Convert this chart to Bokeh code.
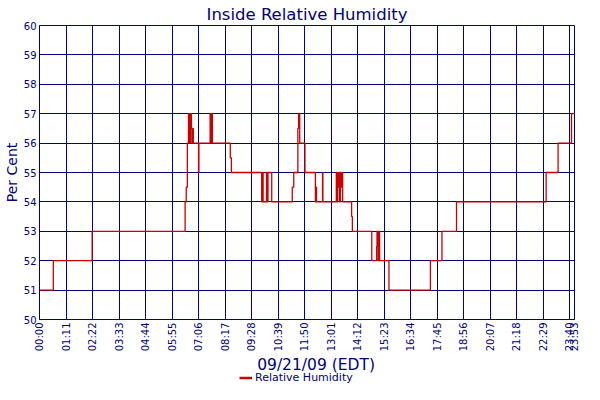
import math
from bokeh.plotting import figure
from bokeh.layouts import column
from bokeh.models import FixedTicker, Legend, LegendItem, Range1d, ColumnDataSource, Label
from bokeh.embed import file_html
from bokeh.resources import INLINE

# Time of day in minutes after midnight, and relative humidity (%) from that time on
minutes = [0, 37, 141, 390, 393, 396, 399, 402, 404, 405, 406, 407, 408, 409, 410, 411, 412,
           426, 427, 457, 458, 459, 460, 461, 463, 511, 514,
           595, 596, 597, 598, 599, 608, 609, 610, 611, 612, 622,
           677, 681, 692, 694, 697, 711, 739, 741, 742, 758, 759,
           795, 797, 799, 800, 802, 804, 806, 808, 810, 812, 836, 838,
           890, 903, 904, 905, 906, 907, 908, 909, 910, 911, 936,
           1047, 1078, 1117, 1357, 1389, 1425, 1433]
humidity = [51, 52, 53, 54, 54.5, 56, 57, 56, 57, 56.5, 57, 56.5, 56, 56.5, 56, 56.5, 56,
            55, 56, 57, 56, 57, 56, 57, 56, 55.5, 55,
            54, 55, 54, 55, 54, 55, 54, 55, 54, 55, 54,
            54.5, 55, 56.5, 57, 56, 55, 54, 54.5, 54, 55, 54,
            55, 54, 55, 54.5, 55, 54, 55, 54.5, 55, 54, 53.5, 53,
            52, 52.5, 53, 52.5, 53, 52, 53, 52, 53, 52, 51,
            52, 53, 54, 55, 56, 57, 57]

x_tick_minutes = [0, 71, 142, 213, 284, 355, 426, 497, 568, 639, 710, 781, 852, 923,
                  994, 1065, 1136, 1207, 1278, 1349, 1420, 1433]
x_tick_labels = ["00:00", "01:11", "02:22", "03:33", "04:44", "05:55", "07:06", "08:17",
                 "09:28", "10:39", "11:50", "13:01", "14:12", "15:23", "16:34", "17:45",
                 "18:56", "20:07", "21:18", "22:29", "23:40", "23:53"]
y_ticks = [50, 51, 52, 53, 54, 55, 56, 57, 58, 59, 60]
series_name = "Relative Humidity"
title_text = "Inside Relative Humidity"
x_title = "09/21/09 (EDT)"
y_title = "Per Cent"

NAVY = "#000080"
RED = "#cc0000"
FONT = "DejaVu Sans"
W = 590

source = ColumnDataSource(data=dict(t=minutes, rh=humidity))

p = figure(width=W, height=355, output_backend="svg", toolbar_location=None,
           x_range=Range1d(0, 1433), y_range=Range1d(50, 60),
           y_axis_label=y_title,
           min_border_left=2, min_border_right=2, min_border_top=2, min_border_bottom=36)

r = p.step("t", "rh", source=source, mode="after", line_color=RED, line_width=1.3)

p.title.text = title_text
p.title.align = "center"
p.title.text_font = FONT
p.title.text_font_size = "16.5px"
p.title.text_font_style = "normal"
p.title.text_color = NAVY
p.title.standoff = 4

p.outline_line_color = NAVY
p.outline_line_width = 1
p.background_fill_color = "white"
p.border_fill_color = "white"

p.xaxis.ticker = FixedTicker(ticks=x_tick_minutes)
p.xaxis.major_label_overrides = {t: lab for t, lab in zip(x_tick_minutes, x_tick_labels)}
p.xaxis.major_label_orientation = math.pi / 2
p.yaxis.ticker = FixedTicker(ticks=y_ticks)

for ax in (p.xaxis, p.yaxis):
    ax.axis_line_color = NAVY
    ax.major_tick_line_color = None
    ax.minor_tick_line_color = None
    ax.major_tick_out = 0
    ax.major_tick_in = 0
    ax.major_label_text_color = NAVY
    ax.major_label_text_font = FONT
    ax.major_label_text_font_size = "10px"
    ax.major_label_standoff = 3
    ax.axis_label_text_color = NAVY
    ax.axis_label_text_font = FONT
    ax.axis_label_text_font_style = "normal"

p.yaxis.axis_label_text_font_size = "14px"
p.yaxis.axis_label_standoff = 1

for g in (p.xgrid, p.ygrid):
    g.grid_line_color = NAVY
    g.grid_line_alpha = 1.0
    g.grid_line_width = 1

# strip below the chart: date caption (x axis title) and legend
lf = figure(width=W, height=29, output_backend="svg", toolbar_location=None,
            x_range=Range1d(0, 1), y_range=Range1d(0, 29),
            min_border=0, min_border_left=32, min_border_right=16,
            min_border_top=0, min_border_bottom=0)
lf.axis.visible = False
lf.grid.visible = False
lf.outline_line_color = None
lf.background_fill_color = "white"
lf.border_fill_color = "white"

lf.add_layout(Label(x=0.517, y=20, text=x_title, text_align="center", text_baseline="middle",
                    text_font=FONT, text_font_size="15.5px", text_color=NAVY))

# same series drawn in the strip only to give the legend its glyph (it lies outside this strip's ranges)
lr = lf.step("t", "rh", source=source, mode="after", line_color=RED, line_width=2.5)

legend = Legend(items=[LegendItem(label=series_name, renderers=[lr])],
                orientation="horizontal", location=(200, 0),
                border_line_color=None, background_fill_alpha=0,
                label_text_font=FONT, label_text_font_size="11px", label_text_color=NAVY,
                glyph_width=13, glyph_height=11, label_height=11, label_standoff=3,
                padding=1, margin=0, spacing=0)
lf.add_layout(legend, "center")

layout = column(p, lf, spacing=0)

open("out.html", "w").write(file_html(layout, INLINE))
